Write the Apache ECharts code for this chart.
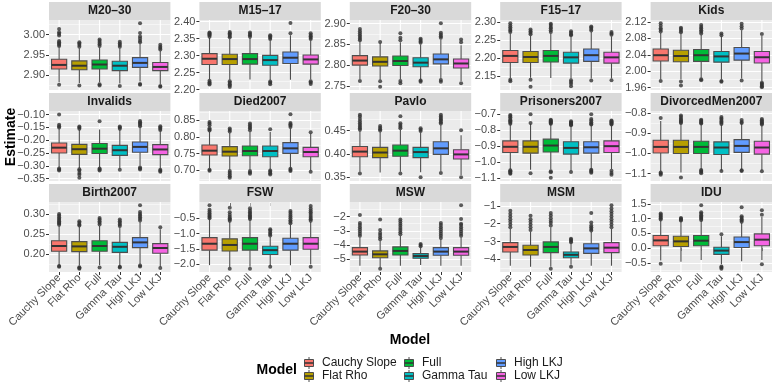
<!DOCTYPE html>
<html>
<head>
<meta charset="utf-8">
<script src="https://cdn.jsdelivr.net/npm/echarts@6/dist/echarts.min.js"></script>
<style>
  html, body { margin: 0; padding: 0; background: #fff; }
  #chart { width: 775px; height: 388px; }
</style>
</head>
<body>
<div id="chart"></div>
<script>
const models = ["Cauchy Slope", "Flat Rho", "Full", "Gamma Tau", "High LKJ", "Low LKJ"];
const modelColors = ["#F8766D", "#B79F00", "#00BA38", "#00BFC4", "#619CFF", "#F564E3"];

// box stats per model: [lower whisker, Q1, median, Q3, upper whisker]
const m2030Box = [[2.882, 2.915, 2.925, 2.939, 2.968], [2.880, 2.913, 2.923, 2.935, 2.966], [2.882, 2.915, 2.926, 2.937, 2.968],
  [2.879, 2.911, 2.923, 2.934, 2.966], [2.884, 2.919, 2.930, 2.943, 2.977], [2.878, 2.911, 2.920, 2.931, 2.960]];
const m2030Out = [[2.972, 2.975, 2.978, 2.981, 2.984, 2.998, 3.002, 3.006, 3.014, 2.876], [2.970, 2.974, 2.978, 2.981, 2.874],
  [2.972, 2.976, 2.980, 2.984, 2.988, 2.877, 2.874], [2.970, 2.974, 2.978, 2.982, 2.873],
  [2.981, 2.985, 2.990, 2.995, 3.004, 3.028, 2.878, 2.876], [2.963, 2.967, 2.970, 2.975, 2.873, 2.871]];
const m2030Ticks = [2.90, 2.95, 3.00];
const m2030Lim = [2.863, 3.036];

const m1517Box = [[2.230, 2.274, 2.291, 2.306, 2.352], [2.229, 2.274, 2.290, 2.304, 2.350], [2.230, 2.275, 2.290, 2.306, 2.352],
  [2.228, 2.272, 2.287, 2.301, 2.345], [2.229, 2.277, 2.294, 2.311, 2.360], [2.230, 2.275, 2.289, 2.302, 2.345]];
const m1517Out = [[2.356, 2.360, 2.363, 2.366, 2.368, 2.226, 2.222, 2.218, 2.215], [2.354, 2.358, 2.362, 2.366, 2.370, 2.225, 2.220, 2.216, 2.212, 2.208],
  [2.356, 2.360, 2.364, 2.368], [2.349, 2.353, 2.357, 2.360, 2.224, 2.220, 2.216],
  [2.366, 2.396], [2.349, 2.353, 2.357, 2.361, 2.366, 2.225, 2.221, 2.217]];
const m1517Ticks = [2.20, 2.25, 2.30, 2.35, 2.40];
const m1517Lim = [2.199, 2.405];

const f2030Box = [[2.766, 2.800, 2.811, 2.823, 2.857], [2.765, 2.798, 2.808, 2.820, 2.853], [2.766, 2.799, 2.810, 2.822, 2.855],
  [2.765, 2.796, 2.806, 2.818, 2.850], [2.768, 2.803, 2.814, 2.827, 2.862], [2.762, 2.793, 2.804, 2.815, 2.848]];
const f2030Out = [[2.860, 2.864, 2.868, 2.872, 2.877, 2.882, 2.887, 2.762], [2.856, 2.761, 2.748],
  [2.860, 2.866, 2.877, 2.762, 2.756], [2.854, 2.857, 2.861, 2.864, 2.763, 2.760],
  [2.866, 2.870, 2.874, 2.878, 2.901, 2.764, 2.760], [2.855, 2.862, 2.756]];
const f2030Ticks = [2.75, 2.80, 2.85, 2.90];
const f2030Lim = [2.740, 2.909];

const f1517Box = [[2.145, 2.188, 2.206, 2.221, 2.268], [2.146, 2.188, 2.203, 2.218, 2.262], [2.145, 2.189, 2.206, 2.221, 2.268],
  [2.143, 2.186, 2.202, 2.216, 2.260], [2.144, 2.191, 2.208, 2.225, 2.272], [2.144, 2.186, 2.202, 2.216, 2.260]];
const f1517Out = [[2.272, 2.276, 2.280, 2.285, 2.290, 2.296, 2.140, 2.136], [2.266, 2.270, 2.274, 2.279, 2.140, 2.121],
  [2.272, 2.277, 2.282, 2.286, 2.291, 2.295], [2.263, 2.266, 2.270, 2.274, 2.139, 2.134, 2.129, 2.122],
  [2.276, 2.280, 2.284, 2.287, 2.138], [2.264, 2.268, 2.272, 2.139]];
const f1517Ticks = [2.15, 2.20, 2.25, 2.30];
const f1517Lim = [2.112, 2.305];

const kidsBox = [[1.980, 2.025, 2.039, 2.054, 2.093], [1.980, 2.023, 2.037, 2.051, 2.092], [1.984, 2.024, 2.039, 2.053, 2.089],
  [1.980, 2.022, 2.036, 2.048, 2.085], [1.982, 2.027, 2.043, 2.058, 2.100], [1.976, 2.020, 2.034, 2.048, 2.086]];
const kidsOut = [[2.097, 2.101, 2.105, 2.111, 2.117, 1.976], [2.095, 2.099, 2.103, 2.106, 1.975, 1.965],
  [2.092, 2.096, 2.100, 2.104, 2.108, 2.113, 1.980, 1.978], [2.088, 2.092, 1.976, 1.974],
  [2.104, 2.110, 2.116, 1.977], [2.091, 1.972, 1.969, 1.966, 1.963, 1.961]];
const kidsTicks = [1.96, 2.00, 2.04, 2.08, 2.12];
const kidsLim = [1.954, 2.125];

const invalidsBox = [[-0.305, -0.250, -0.229, -0.211, -0.155], [-0.308, -0.255, -0.235, -0.216, -0.160], [-0.306, -0.252, -0.233, -0.213, -0.158],
  [-0.310, -0.259, -0.239, -0.220, -0.160], [-0.300, -0.247, -0.226, -0.207, -0.150], [-0.310, -0.256, -0.236, -0.217, -0.165]];
const invalidsOut = [[-0.150, -0.145, -0.140, -0.100, -0.310, -0.314, -0.318], [-0.155, -0.150, -0.146, -0.313, -0.318, -0.328, -0.335, -0.346],
  [-0.126, -0.310, -0.314, -0.318], [-0.155, -0.150, -0.146, -0.315],
  [-0.145, -0.140, -0.135, -0.130, -0.125, -0.306, -0.310, -0.314], [-0.160, -0.155, -0.150, -0.145, -0.315, -0.319, -0.323]];
const invalidsTicks = [-0.35, -0.30, -0.25, -0.20, -0.15, -0.10];
const invalidsLim = [-0.359, -0.086];

const died2007Box = [[0.706, 0.746, 0.759, 0.776, 0.815], [0.702, 0.743, 0.756, 0.771, 0.812], [0.703, 0.744, 0.758, 0.773, 0.815],
  [0.703, 0.741, 0.758, 0.773, 0.815], [0.708, 0.751, 0.766, 0.783, 0.825], [0.700, 0.741, 0.755, 0.769, 0.810]];
const died2007Out = [[0.819, 0.822, 0.826, 0.835, 0.840, 0.845, 0.702, 0.699], [0.816, 0.821, 0.825, 0.698, 0.693, 0.688, 0.683, 0.678],
  [0.820, 0.826, 0.830, 0.835, 0.840, 0.698, 0.694, 0.690], [0.823, 0.700, 0.696, 0.692, 0.688],
  [0.830, 0.834, 0.838, 0.842, 0.868, 0.705, 0.701, 0.698], [0.814, 0.696]];
const died2007Ticks = [0.70, 0.75, 0.80, 0.85];
const died2007Lim = [0.6685, 0.8775];

const pavloBox = [[0.362, 0.394, 0.405, 0.416, 0.449], [0.360, 0.392, 0.403, 0.414, 0.447], [0.362, 0.395, 0.407, 0.419, 0.452],
  [0.361, 0.392, 0.404, 0.414, 0.446], [0.363, 0.399, 0.412, 0.426, 0.462], [0.355, 0.389, 0.399, 0.409, 0.440]];
const pavloOut = [[0.452, 0.455, 0.458, 0.462, 0.466, 0.470, 0.475, 0.480, 0.484, 0.358], [0.450, 0.453, 0.456, 0.460],
  [0.455, 0.458, 0.462, 0.466, 0.481, 0.358], [0.449, 0.452, 0.455, 0.350],
  [0.465, 0.468, 0.471, 0.474, 0.477, 0.480, 0.484, 0.359], [0.451, 0.350]];
const pavloTicks = [0.35, 0.40, 0.45];
const pavloLim = [0.342, 0.492];

const prisonersBox = [[-1.045, -0.941, -0.905, -0.868, -0.765], [-1.050, -0.945, -0.905, -0.868, -0.760], [-1.048, -0.938, -0.897, -0.857, -0.765],
  [-1.055, -0.951, -0.912, -0.873, -0.775], [-1.045, -0.945, -0.908, -0.873, -0.770], [-1.045, -0.941, -0.901, -0.868, -0.770]];
const prisonersOut = [[-0.760, -0.752, -0.745, -0.738, -0.730, -0.720, -0.712, -0.705, -1.052, -1.058, -1.064, -1.070, -1.075], [-0.755, -0.700, -1.072],
  [-0.760, -0.755, -0.750, -0.745, -0.740, -0.735, -1.058, -1.065, -1.100], [-0.770, -0.765, -0.760, -0.755, -0.750, -0.745, -1.064],
  [-0.765, -0.760, -0.750, -0.740, -0.730, -0.700, -1.050, -1.056, -1.062, -1.068], [-0.765, -0.760, -0.755, -0.750, -0.745, -0.740, -1.055, -1.070, -1.080]];
const prisonersTicks = [-1.1, -1.0, -0.9, -0.8, -0.7];
const prisonersLim = [-1.12, -0.68];

const divorcedBox = [[-1.090, -0.998, -0.968, -0.935, -0.840], [-1.095, -1.001, -0.968, -0.935, -0.855], [-1.078, -1.001, -0.968, -0.940, -0.856],
  [-1.085, -1.006, -0.971, -0.943, -0.860], [-1.080, -0.995, -0.963, -0.932, -0.855], [-1.085, -1.004, -0.971, -0.940, -0.862]];
const divorcedOut = [[-0.825, -1.095, -1.100, -1.106], [-0.850, -0.845, -0.840, -0.835, -0.828, -0.820, -0.812, -1.120],
  [-0.852, -0.848, -0.843, -0.838, -0.833, -1.083, -1.088, -1.093, -1.099], [-0.855, -0.848, -0.842, -0.835, -0.827, -0.820, -1.088],
  [-0.850, -0.845, -0.835, -1.084, -1.088], [-0.857, -0.852, -0.847, -0.842, -0.836, -0.830, -1.089]];
const divorcedTicks = [-1.1, -1.0, -0.9, -0.8];
const divorcedLim = [-1.137, -0.790];

const birth2007Box = [[0.172, 0.207, 0.220, 0.233, 0.270], [0.171, 0.206, 0.219, 0.231, 0.268], [0.172, 0.207, 0.220, 0.233, 0.270],
  [0.170, 0.204, 0.218, 0.229, 0.266], [0.175, 0.216, 0.229, 0.241, 0.280], [0.168, 0.202, 0.215, 0.226, 0.262]];
const birth2007Out = [[0.273, 0.276, 0.279, 0.282, 0.285, 0.288, 0.292, 0.296, 0.300, 0.168, 0.170], [0.271, 0.274, 0.278, 0.282, 0.167, 0.165, 0.163],
  [0.274, 0.278, 0.282, 0.286, 0.290, 0.166], [0.270, 0.274, 0.278, 0.282, 0.286, 0.166, 0.168],
  [0.284, 0.288, 0.292, 0.296, 0.300, 0.305, 0.322, 0.169, 0.171], [0.267, 0.165]];
const birth2007Ticks = [0.20, 0.25, 0.30];
const birth2007Lim = [0.155, 0.330];

const fswBox = [[-2.03, -1.54, -1.33, -1.13, -0.53], [-2.10, -1.57, -1.37, -1.17, -0.62], [-2.08, -1.54, -1.33, -1.13, -0.55],
  [-2.05, -1.68, -1.54, -1.41, -1.10], [-2.03, -1.54, -1.33, -1.15, -0.70], [-2.00, -1.51, -1.33, -1.13, -0.62]];
const fswOut = [[-0.50, -0.46, -0.42, -0.38, -0.33, -0.28, -0.22, -0.07], [-0.58, -0.54, -0.50, -0.45, -0.38, -0.30, -0.15, -2.15],
  [-0.52, -0.48, -0.44, -0.40, -0.35, -0.30, -0.24, -0.17, -2.15], [-1.06, -1.01, -0.96, -0.90, -0.86, -2.08],
  [-0.66, -0.61, -0.56, -0.50, -0.44, -0.38, -0.32, -0.26], [-0.58, -0.53, -0.48, -0.42, -0.36, -0.30, -0.24, -0.18, -0.10, -2.08]];
const fswTicks = [-2.0, -1.5, -1.0, -0.5];
const fswLim = [-2.254, 0.034];

const mswBox = [[-5.45, -4.70, -4.46, -4.18, -3.45], [-5.55, -4.89, -4.65, -4.41, -3.70], [-5.45, -4.70, -4.41, -4.13, -3.35],
  [-5.40, -4.93, -4.77, -4.60, -4.15], [-5.45, -4.72, -4.46, -4.18, -3.60], [-5.45, -4.72, -4.46, -4.18, -3.45]];
const mswOut = [[-3.35, -3.2, -3.05, -2.9, -2.75, -2.6, -2.45, -1.9], [-3.6, -3.45, -3.3, -3.15, -2.95, -2.2, -5.67],
  [-3.25, -3.1, -2.95, -2.8, -2.65, -2.5, -2.35, -2.2], [-4.08, -4.0, -3.93],
  [-3.5, -3.35, -3.2, -3.05, -2.9, -2.75, -2.6, -2.45], [-3.35, -3.2, -3.05, -2.9, -2.75, -2.6, -2.5, -2.18, -1.2]];
const mswTicks = [-5, -4, -3, -2];
const mswLim = [-5.89, -0.98];

const msmBox = [[-4.35, -3.58, -3.30, -3.06, -2.30], [-4.40, -3.75, -3.47, -3.21, -2.45], [-4.40, -3.62, -3.30, -3.02, -2.20],
  [-4.30, -3.90, -3.74, -3.58, -3.10], [-4.35, -3.66, -3.38, -3.12, -2.45], [-4.35, -3.62, -3.34, -3.06, -2.30]];
const msmOut = [[-2.2, -2.05, -1.9, -1.75, -1.6, -1.45, -1.28], [-2.35, -2.2, -2.05, -1.9, -1.75, -1.56],
  [-2.1, -1.95, -1.84, -1.7, -1.55, -1.41, -4.52], [-3.04, -2.97, -2.9, -2.84, -4.41],
  [-2.38, -2.3, -2.2, -2.1, -1.94, -1.41], [-2.2, -2.05, -1.9, -1.75, -1.6, -1.45, -1.3, -1.15, -0.97]];
const msmTicks = [-4, -3, -2, -1];
const msmLim = [-4.70, -0.79];

const iduBox = [[-0.42, 0.077, 0.26, 0.424, 0.93], [-0.46, 0.053, 0.227, 0.40, 0.90], [-0.40, 0.077, 0.25, 0.424, 0.92],
  [-0.55, -0.214, -0.086, 0.03, 0.40], [-0.45, 0.018, 0.203, 0.376, 0.85], [-0.40, 0.077, 0.285, 0.48, 1.05]];
const iduOut = [[0.97, 1.01, 1.05, 1.09, 1.13, 1.17, -0.53], [0.93, 0.96, 0.99, 1.02],
  [0.95, 0.99, 1.03, 1.07, 1.11, 1.16, 1.21, 1.45], [0.47, -0.62, -0.66, -0.70],
  [0.89, 0.93, 0.98, 1.03, 1.08, 1.38], [1.13, 1.28, -0.55]];
const iduTicks = [-0.5, 0.0, 0.5, 1.0, 1.5];
const iduLim = [-0.81, 1.56];

const panels = [
  { name: "M20\u201330", box: m2030Box, out: m2030Out, ticks: m2030Ticks, lim: m2030Lim },
  { name: "M15\u201317", box: m1517Box, out: m1517Out, ticks: m1517Ticks, lim: m1517Lim },
  { name: "F20\u201330", box: f2030Box, out: f2030Out, ticks: f2030Ticks, lim: f2030Lim },
  { name: "F15\u201317", box: f1517Box, out: f1517Out, ticks: f1517Ticks, lim: f1517Lim },
  { name: "Kids", box: kidsBox, out: kidsOut, ticks: kidsTicks, lim: kidsLim },
  { name: "Invalids", box: invalidsBox, out: invalidsOut, ticks: invalidsTicks, lim: invalidsLim },
  { name: "Died2007", box: died2007Box, out: died2007Out, ticks: died2007Ticks, lim: died2007Lim },
  { name: "Pavlo", box: pavloBox, out: pavloOut, ticks: pavloTicks, lim: pavloLim },
  { name: "Prisoners2007", box: prisonersBox, out: prisonersOut, ticks: prisonersTicks, lim: prisonersLim },
  { name: "DivorcedMen2007", box: divorcedBox, out: divorcedOut, ticks: divorcedTicks, lim: divorcedLim },
  { name: "Birth2007", box: birth2007Box, out: birth2007Out, ticks: birth2007Ticks, lim: birth2007Lim },
  { name: "FSW", box: fswBox, out: fswOut, ticks: fswTicks, lim: fswLim },
  { name: "MSW", box: mswBox, out: mswOut, ticks: mswTicks, lim: mswLim },
  { name: "MSM", box: msmBox, out: msmOut, ticks: msmTicks, lim: msmLim },
  { name: "IDU", box: iduBox, out: iduOut, ticks: iduTicks, lim: iduLim }
];

const FONT = "Liberation Sans, Arial, sans-serif";
const chart = echarts.init(document.getElementById("chart"), null, { renderer: "canvas" });

const decimalsOf = (step) => {
  let d = 0;
  while (d < 4 && Math.abs(Math.round(step * Math.pow(10, d)) - step * Math.pow(10, d)) > 1e-7) d++;
  return d;
};
const minorTicks = (ticks, lim) => {
  const step = ticks[1] - ticks[0];
  const res = [];
  let v = ticks[0] - step / 2;
  while (v <= lim[1]) {
    if (v >= lim[0]) res.push(+v.toFixed(6));
    v += step;
  }
  return res;
};

const renderBox = (params, api) => {
  const k = api.value(0);
  const lo = api.coord([k, api.value(1)]);
  const q1 = api.coord([k, api.value(2)]);
  const md = api.coord([k, api.value(3)]);
  const q3 = api.coord([k, api.value(4)]);
  const hi = api.coord([k, api.value(5)]);
  const cx = md[0];
  const bw = api.size([1, 0])[0] * 0.75;
  const cs = params.coordSys;
  const edge = "#4D4D4D";
  return {
    type: "group",
    children: [
      { type: "line", shape: { x1: cx, y1: cs.y, x2: cx, y2: cs.y + cs.height }, style: { stroke: "#FFFFFF", lineWidth: 1.1 } },
      { type: "line", shape: { x1: cx, y1: hi[1], x2: cx, y2: q3[1] }, style: { stroke: edge, lineWidth: 1.1 } },
      { type: "line", shape: { x1: cx, y1: q1[1], x2: cx, y2: lo[1] }, style: { stroke: edge, lineWidth: 1.1 } },
      { type: "rect", shape: { x: cx - bw / 2, y: q3[1], width: bw, height: q1[1] - q3[1] },
        style: { fill: modelColors[k], stroke: edge, lineWidth: 1.1 } },
      { type: "line", shape: { x1: cx - bw / 2, y1: md[1], x2: cx + bw / 2, y2: md[1] }, style: { stroke: "#333333", lineWidth: 2 } }
    ]
  };
};

const grids = [], xAxes = [], yAxes = [], series = [], graphics = [];
const PW = 121.4, PH = 70;

panels.forEach((p, i) => {
  const r = Math.floor(i / 5), c = i % 5;
  const left = 49 + c * 150.4, top = 20 + r * 91;
  const bottomRow = r === 2;
  const dec = decimalsOf(p.ticks[1] - p.ticks[0]);

  grids.push({ left, top, width: PW, height: PH, show: true, backgroundColor: "#EBEBEB", borderWidth: 0 });

  xAxes.push({
    type: "category", gridIndex: i, data: models,
    axisLine: { show: false },
    axisTick: { show: bottomRow, alignWithLabel: true, interval: 0, length: 3, lineStyle: { color: "#333333" } },
    axisLabel: { show: bottomRow, interval: 0, rotate: 45, margin: 4, fontSize: 11, color: "#4D4D4D", fontFamily: FONT },
    splitLine: { show: false }
  });

  yAxes.push({
    type: "value", gridIndex: i, position: "left", min: p.lim[0], max: p.lim[1],
    axisLine: { show: false },
    axisTick: { show: true, length: 3, customValues: p.ticks, lineStyle: { color: "#333333" } },
    axisLabel: {
      customValues: p.ticks, margin: 4, fontSize: 11, color: "#4D4D4D", fontFamily: FONT,
      formatter: (v) => (v < -1e-9 ? "\u2212" : "") + Math.abs(v).toFixed(dec)
    },
    splitLine: { show: true, lineStyle: { color: "#FFFFFF", width: 1.1 } }
  });
  const minors = minorTicks(p.ticks, p.lim);
  yAxes.push({
    type: "value", gridIndex: i, position: "right", min: p.lim[0], max: p.lim[1],
    axisLine: { show: false },
    axisTick: { show: false, customValues: minors },
    axisLabel: { show: false, customValues: minors },
    splitLine: { show: true, lineStyle: { color: "#FFFFFF", width: 0.5 } }
  });

  series.push({
    type: "custom", xAxisIndex: i, yAxisIndex: 2 * i, silent: true, z: 2,
    data: p.box.map((b, k) => [k].concat(b)),
    encode: { x: 0, y: [1, 2, 3, 4, 5] },
    renderItem: renderBox
  });
  const outData = [];
  p.out.forEach((vals, k) => vals.forEach((v) => outData.push([k, v])));
  series.push({
    type: "scatter", xAxisIndex: i, yAxisIndex: 2 * i, silent: true, z: 3,
    symbolSize: 4, itemStyle: { color: "#333333" }, data: outData
  });

  // facet strip
  graphics.push({ type: "rect", shape: { x: left, y: top - 18, width: PW, height: 18 }, style: { fill: "#D9D9D9" }, silent: true });
  graphics.push({
    type: "text", x: left + PW / 2, y: top - 9, silent: true,
    style: { text: p.name, font: "bold 12px " + FONT, fill: "#1A1A1A", textAlign: "center", textVerticalAlign: "middle" }
  });
});

// axis titles
graphics.push({
  type: "text", x: 11, y: 137, rotation: Math.PI / 2, silent: true,
  style: { text: "Estimate", font: "bold 14px " + FONT, fill: "#000", textAlign: "center", textVerticalAlign: "middle" }
});
graphics.push({
  type: "text", x: 410, y: 340, silent: true,
  style: { text: "Model", font: "bold 14px " + FONT, fill: "#000", textAlign: "center", textVerticalAlign: "middle" }
});

// legend
graphics.push({
  type: "text", x: 297, y: 370, silent: true,
  style: { text: "Model", font: "bold 14px " + FONT, fill: "#000", textAlign: "right", textVerticalAlign: "middle" }
});
const keyX = [309, 409, 501];
const keyY = [363, 376];
models.forEach((m, k) => {
  const kx = keyX[Math.floor(k / 2)], ky = keyY[k % 2];
  graphics.push({ type: "line", shape: { x1: kx, y1: ky - 6, x2: kx, y2: ky + 6 }, style: { stroke: "#4D4D4D", lineWidth: 1 }, silent: true });
  graphics.push({ type: "rect", shape: { x: kx - 4.5, y: ky - 3.5, width: 9, height: 7 }, style: { fill: modelColors[k], stroke: "#4D4D4D", lineWidth: 1 }, silent: true });
  graphics.push({ type: "line", shape: { x1: kx - 4.5, y1: ky, x2: kx + 4.5, y2: ky }, style: { stroke: "#333333", lineWidth: 1.5 }, silent: true });
  graphics.push({
    type: "text", x: kx + 13, y: ky, silent: true,
    style: { text: m, font: "12px " + FONT, fill: "#1A1A1A", textAlign: "left", textVerticalAlign: "middle" }
  });
});

chart.setOption({
  animation: false,
  backgroundColor: "#FFFFFF",
  textStyle: { fontFamily: FONT },
  grid: grids,
  xAxis: xAxes,
  yAxis: yAxes,
  series: series,
  graphic: graphics
});
</script>
</body>
</html>
